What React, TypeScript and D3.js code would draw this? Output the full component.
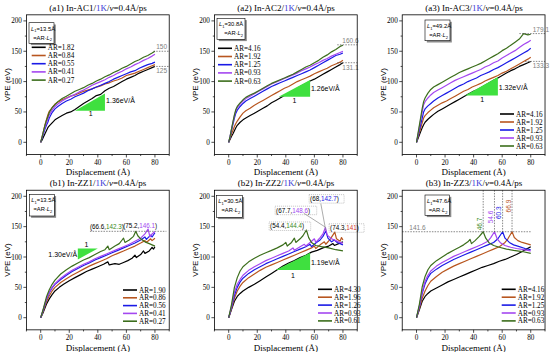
import React from 'react';
import * as d3 from 'd3';

// ---- data ----
const seriesColors = ['#000000', '#b8561f', '#1a1ae6', '#a447f0', '#3c6e1c'];

const gridA = [0, 1, 2, 3, 4, 5, 6, 8, 10, 12, 15, 18, 21, 24, 27, 30, 33, 36, 39, 42, 45, 48, 51, 54, 57, 60, 63, 66, 69, 72, 75, 78, 80];

const a1Labels = ['AR=1.82', 'AR=0.84', 'AR=0.55', 'AR=0.41', 'AR=0.27'];
const a1Values = [
  [0, 4, 9, 14, 19, 24, 27, 32, 37, 40, 44, 48, 50, 54, 59, 64, 68, 72, 77, 79, 85, 89, 92, 96, 100, 104, 107, 110, 114, 117, 120, 123, 125],
  [0, 9, 19, 29, 37, 45, 51, 57, 63, 66, 70, 73, 76, 78, 81, 84, 86, 88, 91, 93, 96, 98, 101, 103, 106, 110, 112, 114, 117, 120, 123, 126, 128],
  [0, 7, 15, 22, 28, 33, 40, 49, 55, 59, 64, 68, 71, 75, 78, 81, 85, 88, 91, 94, 97, 100, 104, 107, 110, 113, 116, 118, 122, 125, 128, 130, 132],
  [0, 8, 17, 25, 32, 38, 45, 53, 59, 63, 68, 72, 76, 79, 83, 86, 90, 94, 97, 100, 103, 107, 110, 114, 117, 121, 124, 128, 131, 135, 138, 142, 145],
  [0, 9, 19, 28, 36, 42, 49, 57, 62, 67, 72, 76, 80, 84, 87, 90, 94, 97, 101, 104, 108, 111, 115, 118, 122, 125, 129, 133, 136, 140, 143, 147, 150],
];

const a2Labels = ['AR=4.16', 'AR=1.92', 'AR=1.25', 'AR=0.93', 'AR=0.63'];
const a2Values = [
  [0, 5, 10, 14, 19, 24, 28, 33, 37, 40, 44, 48, 52, 56, 60, 65, 69, 73, 77, 81, 85, 89, 93, 97, 101, 104, 108, 112, 116, 120, 124, 128, 131],
  [0, 7, 14, 20, 26, 31, 35, 42, 48, 52, 56, 61, 65, 69, 73, 77, 81, 85, 89, 92, 96, 100, 103, 106, 109, 113, 116, 119, 122, 126, 129, 132, 135],
  [0, 9, 20, 30, 40, 48, 53, 59, 64, 68, 72, 76, 80, 84, 88, 92, 95, 98, 101, 104, 107, 110, 113, 116, 119, 123, 127, 131, 135, 139, 143, 145, 147],
  [0, 10, 22, 33, 44, 52, 57, 63, 68, 72, 76, 80, 84, 88, 92, 96, 99, 102, 105, 108, 111, 114, 118, 121, 124, 128, 131, 135, 138, 142, 145, 148, 150],
  [0, 10, 22, 34, 45, 54, 59, 65, 70, 74, 78, 81, 85, 89, 93, 97, 100, 103, 106, 109, 112, 116, 120, 124, 127, 131, 135, 140, 144, 149, 153, 158, 160],
];

const a3Labels = ['AR=4.16', 'AR=1.92', 'AR=1.25', 'AR=0.93', 'AR=0.63'];
const a3Values = [
  [0, 6, 12, 18, 24, 29, 33, 38, 42, 46, 51, 55, 59, 63, 67, 71, 75, 79, 83, 86, 90, 94, 98, 102, 106, 110, 114, 118, 121, 125, 128, 131, 133],
  [0, 8, 16, 24, 32, 40, 44, 49, 53, 57, 61, 65, 68, 72, 76, 80, 84, 87, 91, 94, 97, 101, 104, 107, 110, 114, 117, 121, 125, 129, 133, 137, 140],
  [0, 10, 20, 30, 40, 50, 55, 60, 64, 68, 73, 77, 81, 85, 89, 93, 96, 100, 103, 106, 110, 113, 116, 120, 123, 127, 131, 135, 139, 143, 147, 151, 155],
  [0, 12, 25, 38, 50, 62, 67, 73, 78, 82, 86, 90, 94, 98, 102, 105, 108, 111, 114, 117, 120, 124, 127, 131, 134, 139, 143, 147, 151, 156, 161, 165, 168],
  [0, 14, 28, 42, 56, 67, 73, 81, 87, 91, 95, 99, 103, 107, 111, 115, 118, 121, 124, 127, 130, 134, 138, 142, 146, 151, 155, 160, 165, 170, 179, 177, 178],
];

const b1Labels = ['AR=1.90', 'AR=0.86', 'AR=0.56', 'AR=0.41', 'AR=0.27'];
const b1Black = [[0, 0], [2, 10], [4, 22], [6, 31], [8, 38], [10, 44], [13, 50], [16, 55], [20, 61], [24, 66], [28, 71], [32, 76], [36, 80], [40, 84], [44, 88], [47, 92], [48, 87], [52, 89], [55, 88], [58, 91], [61, 94], [64, 98], [66, 103], [67, 99], [70, 104], [72, 110], [73, 106], [76, 110], [78, 116], [79, 113], [80, 117]];
const b1Brown = [[0, 0], [2, 12], [4, 26], [6, 36], [8, 44], [10, 50], [14, 58], [18, 64], [22, 70], [26, 75], [30, 80], [34, 85], [38, 89], [42, 93], [46, 97], [50, 102], [54, 106], [58, 110], [62, 114], [66, 118], [70, 123], [73, 127], [74, 124], [77, 130], [78, 127], [80, 131]];
const b1Blue = [[0, 0], [2, 14], [4, 30], [6, 41], [8, 49], [10, 55], [14, 63], [18, 70], [22, 76], [26, 81], [30, 86], [34, 90], [38, 95], [42, 99], [46, 103], [50, 107], [54, 111], [58, 115], [62, 119], [66, 123], [70, 128], [73, 133], [74, 129], [77, 136], [78, 133], [80, 140]];
const b1Purple = [[0, 0], [2, 15], [4, 31], [6, 42], [8, 50], [10, 56], [14, 65], [18, 72], [22, 78], [26, 83], [30, 88], [34, 92], [38, 97], [42, 101], [46, 105], [50, 109], [54, 113], [58, 117], [62, 121], [66, 126], [70, 131], [73, 138], [75.2, 146.1], [76.5, 133], [78, 138], [80, 142]];
const b1Green = [[0, 0], [2, 16], [4, 34], [6, 46], [8, 55], [10, 62], [14, 72], [18, 79], [22, 85], [26, 90], [30, 95], [34, 99], [38, 104], [42, 109], [45, 112], [47, 118], [48, 112], [52, 118], [55, 122], [57, 128], [58, 131], [59, 124], [62, 128], [65, 134], [66.6, 142.3], [68, 135], [70, 130], [73, 125], [76, 122], [80, 118]];

const b2Labels = ['AR=4.30', 'AR=1.96', 'AR=1.26', 'AR=0.93', 'AR=0.61'];
const b2Black = [[0, 0], [2, 14], [4, 27], [6, 35], [8, 40], [10, 44], [14, 50], [18, 55], [22, 61], [26, 67], [30, 73], [34, 79], [38, 85], [42, 90], [46, 94], [50, 99], [54, 103], [58, 108], [62, 111], [66, 115], [70, 118], [73, 122], [74, 119], [77, 122], [80, 125]];
const b2Brown = [[0, 0], [2, 15], [4, 32], [6, 44], [8, 52], [10, 58], [14, 66], [18, 72], [22, 78], [26, 83], [30, 87], [34, 91], [38, 95], [42, 99], [46, 103], [50, 107], [54, 111], [58, 115], [60, 118], [61, 114], [64, 120], [67, 125], [68, 121], [71, 129], [74.3, 141], [75.5, 130], [78, 126], [79, 132], [80, 128]];
const b2Blue = [[0, 0], [2, 17], [4, 37], [6, 50], [8, 59], [10, 65], [14, 73], [18, 79], [22, 84], [26, 89], [30, 93], [34, 97], [38, 101], [42, 105], [46, 109], [50, 113], [54, 117], [57, 121], [58, 117], [61, 123], [64, 128], [66, 134], [68, 142.7], [69.5, 131], [72, 125], [74, 128], [76, 124], [78, 122], [80, 120]];
const b2Purple = [[0, 0], [2, 19], [4, 42], [6, 55], [8, 63], [10, 70], [14, 78], [18, 84], [22, 89], [26, 94], [30, 98], [34, 102], [38, 106], [42, 110], [45, 115], [46, 111], [50, 117], [53, 121], [54, 118], [57, 124], [60, 130], [61, 124], [64, 132], [66, 138], [67.7, 148.6], [69, 136], [72, 130], [75, 127], [78, 124], [80, 123]];
const b2Green = [[0, 0], [2, 22], [4, 50], [6, 66], [8, 77], [10, 84], [14, 92], [18, 98], [22, 103], [26, 107], [30, 111], [34, 115], [38, 120], [40, 124], [41, 118], [44, 124], [46, 131], [47, 124], [50, 130], [52, 135], [54.4, 144.4], [56, 132], [58, 124], [61, 119], [65, 117], [70, 115], [75, 112], [80, 110]];

const b3Labels = ['AR=4.16', 'AR=1.92', 'AR=1.25', 'AR=0.93', 'AR=0.63'];
const b3Black = [[0, 0], [2, 13], [4, 27], [6, 35], [8, 40], [10, 44], [14, 49], [18, 54], [22, 59], [26, 63], [30, 67], [34, 71], [38, 75], [42, 79], [46, 83], [50, 86], [54, 89], [58, 93], [62, 96], [66, 100], [70, 104], [74, 109], [77, 113], [80, 117]];
const b3Brown = [[0, 0], [2, 15], [4, 32], [6, 44], [8, 53], [10, 60], [14, 68], [18, 75], [22, 80], [26, 85], [30, 89], [34, 93], [38, 97], [42, 101], [46, 105], [50, 109], [54, 113], [58, 117], [62, 124], [64, 130], [66.9, 141.6], [68.5, 132], [71, 127], [74, 124], [77, 122], [80, 120]];
const b3Blue = [[0, 0], [2, 18], [4, 40], [6, 56], [8, 66], [10, 73], [14, 80], [18, 86], [22, 91], [26, 96], [30, 100], [34, 104], [38, 108], [42, 112], [46, 116], [50, 120], [54, 124], [57, 130], [60.3, 141.6], [62, 131], [65, 124], [68, 120], [72, 117], [76, 114], [80, 112]];
const b3Purple = [[0, 0], [2, 19], [4, 43], [6, 60], [8, 70], [10, 77], [14, 85], [18, 91], [22, 96], [26, 101], [30, 105], [34, 109], [38, 113], [42, 117], [46, 121], [50, 126], [52, 132], [54.6, 141.6], [56.5, 130], [59, 123], [62, 119], [66, 116], [70, 114], [75, 112], [80, 110]];
const b3Green = [[0, 0], [2, 22], [4, 51], [6, 68], [8, 79], [10, 86], [14, 94], [18, 100], [22, 106], [26, 111], [30, 116], [33, 120], [36, 125], [37.5, 129], [38.5, 122], [41, 127], [44, 134], [46.7, 141.6], [48.5, 131], [51, 123], [54, 119], [58, 116], [63, 113], [68, 111], [74, 109], [80, 106]];

const xTicks = [0, 20, 40, 60, 80];
const yTicks = [0, 50, 100, 150, 200];

// ---- layout ----
const SERIF = "'Liberation Serif', 'Times New Roman', serif";
const SANS = "'Liberation Sans', Arial, sans-serif";
const colX0 = [40.7, 228.7, 416.5];
const rowY0 = [142.3, 317.7];
const PXX = 1.428;
const PXY = 0.607;
const TRI = '#3fe03f';

const toPairs = (vals: number[]) => vals.map((v, i) => [gridA[i], v]);

type Pt = number[];

function makeScales(col: number, row: number) {
  const x = d3.scaleLinear().domain([-10, 90]).range([colX0[col] - 10 * PXX, colX0[col] + 90 * PXX]);
  const y = d3.scaleLinear().domain([-20, 210]).range([rowY0[row] + 20 * PXY, rowY0[row] - 210 * PXY]);
  return {x, y};
}

function Title({x, y, tag, name}: any) {
  return (
    <text x={x} y={y} textAnchor="middle" fontFamily={SERIF} fontSize={9}>
      {`(${tag}) In-${name}/`}
      <tspan fill="#3b3bd6">1K</tspan>
      {'/'}
      <tspan fontStyle="italic">v</tspan>
      {'=0.4Å/ps'}
    </text>
  );
}

function LBox({x, y, w, h, val}: any) {
  return (
    <g fontFamily={SANS} fontSize={5.8}>
      <rect x={x + 1.8} y={y + 1.8} width={w} height={h} fill="#8a8a8a" />
      <rect x={x} y={y} width={w} height={h} fill="#fff" stroke="#000" strokeWidth={0.6} />
      <text x={x + 2} y={y + 8}>
        <tspan fontStyle="italic">L</tspan>
        <tspan fontSize={4} dy={1.5}>1</tspan>
        <tspan dy={-1.5}>{`=${val}Å`}</tspan>
      </text>
      <text x={x + w - 2} y={y + 17} textAnchor="end">
        {'=AR·'}
        <tspan fontStyle="italic">L</tspan>
        <tspan fontSize={4} dy={1.5}>2</tspan>
      </text>
    </g>
  );
}

function Legend({x, y, labels, gap}: any) {
  return (
    <g fontFamily={SERIF} fontSize={7.2}>
      {labels.map((l: string, i: number) => (
        <g key={l + i}>
          <line x1={x} x2={x + 14} y1={y + i * gap} y2={y + i * gap} stroke={seriesColors[i]} strokeWidth={1.6} />
          <text x={x + 16} y={y + i * gap + 2.5}>{l}</text>
        </g>
      ))}
    </g>
  );
}

function Panel({col, row, series, children}: any) {
  const {x, y} = makeScales(col, row);
  const [x0, x1] = x.range();
  const [yb, yt] = y.range();
  const line = d3.line<Pt>().x(d => x(d[0])).y(d => y(d[1]));
  const minorX = d3.range(-10, 91, 10).filter(v => !xTicks.includes(v));
  const minorY = d3.range(25, 210, 50);
  return (
    <g>
      <g fill="none" strokeLinejoin="round">
        {series.map((s: Pt[], i: number) => (
          <path key={i} d={line(s) || ''} stroke={seriesColors[i]} strokeWidth={1.2} />
        ))}
      </g>
      {children(x, y)}
      <rect x={x0} y={yt} width={x1 - x0} height={yb - yt} fill="none" stroke="#000" strokeWidth={0.8} />
      <g stroke="#000" strokeWidth={0.7}>
        {xTicks.map(t => <line key={'x' + t} x1={x(t)} x2={x(t)} y1={yb} y2={yb + 3} />)}
        {minorX.map(t => <line key={'mx' + t} x1={x(t)} x2={x(t)} y1={yb} y2={yb + 1.6} />)}
        {yTicks.map(t => <line key={'y' + t} x1={x0} x2={x0 - 3} y1={y(t)} y2={y(t)} />)}
        {minorY.map(t => <line key={'my' + t} x1={x0} x2={x0 - 1.6} y1={y(t)} y2={y(t)} />)}
      </g>
      <g fontFamily={SERIF} fontSize={7.2}>
        {xTicks.map(t => <text key={'xl' + t} x={x(t)} y={yb + 10.5} textAnchor="middle">{t}</text>)}
        {yTicks.map(t => <text key={'yl' + t} x={x0 - 4.5} y={y(t) + 2.5} textAnchor="end">{t}</text>)}
      </g>
      <text x={(x0 + x1) / 2} y={yb + 21} textAnchor="middle" fontFamily={SERIF} fontSize={9}>Displacement (Å)</text>
      <text transform={`translate(${x0 - 16},${(yt + yb) / 2}) rotate(-90)`} textAnchor="middle" fontFamily={SANS} fontSize={8}>VPE (eV)</text>
    </g>
  );
}

function Slope({x, y, pts, label, lx, ly, one, anchor}: any) {
  return (
    <g fontFamily={SANS} fontSize={7}>
      <polygon points={pts.map((p: Pt) => `${x(p[0])},${y(p[1])}`).join(' ')} fill={TRI} />
      <text x={x(lx)} y={y(ly)} textAnchor={anchor || 'start'}>{label}</text>
      <text x={x(one[0])} y={y(one[1])} textAnchor="middle">1</text>
    </g>
  );
}

function HMark({x, y, v, from, to, lx, below}: any) {
  return (
    <g>
      <line x1={x(from)} x2={x(to)} y1={y(v)} y2={y(v)} stroke="#555" strokeWidth={0.7} strokeDasharray="1.5,1.2" />
      <text x={x(lx)} y={below ? y(v) + 7 : y(v) - 2} textAnchor="end" fontFamily={SANS} fontSize={6.5} fill="#808080">{v.toFixed(v % 1 ? 1 : 0)}</text>
    </g>
  );
}

function Coord({x, y, at, a, b, color, box}: any) {
  const w = (a.length + b.length + 3) * 3.3;
  return (
    <g fontFamily={SANS} fontSize={6.3}>
      {box && <rect x={x(at[0]) - 1} y={y(at[1]) - 6.5} width={w + 2} height={8.5} fill="none" stroke="#888" strokeWidth={0.5} strokeDasharray="1,1" />}
      <text x={x(at[0])} y={y(at[1])}>
        {`(${a},`}
        <tspan fill={color}>{b}</tspan>
        {')'}
      </text>
    </g>
  );
}

export default function App() {
  const a1 = a1Values.map(toPairs);
  const a2 = a2Values.map(toPairs);
  const a3 = a3Values.map(toPairs);
  const b1 = [b1Black, b1Brown, b1Blue, b1Purple, b1Green];
  const b2 = [b2Black, b2Brown, b2Blue, b2Purple, b2Green];
  const b3 = [b3Black, b3Brown, b3Blue, b3Purple, b3Green];
  return (
    <svg width={550} height={352} style={{position: 'absolute', left: 0, top: 0, background: '#fff'}}>
      <Title x={98} y={10.5} tag="a1" name="AC1" />
      <Title x={286} y={10.5} tag="a2" name="AC2" />
      <Title x={474} y={10.5} tag="a3" name="AC3" />
      <Title x={98} y={186} tag="b1" name="ZZ1" />
      <Title x={286} y={186} tag="b2" name="ZZ2" />
      <Title x={474} y={186} tag="b3" name="ZZ3" />

      <Panel col={0} row={0} series={a1}>
        {(x: any, y: any) => (
          <g>
            <Slope x={x} y={y} pts={[[24, 52], [45, 52], [45, 80.6]]} label="1.36eV/Å" lx={45.8} ly={64} one={[35, 44]} />
            <HMark x={x} y={y} v={150} from={79} to={90} lx={88.5} />
            <HMark x={x} y={y} v={125} from={79} to={90} lx={88.5} below />
          </g>
        )}
      </Panel>
      <Panel col={1} row={0} series={a2}>
        {(x: any, y: any) => (
          <g>
            <Slope x={x} y={y} pts={[[35, 75], [57, 75], [57, 102.7]]} label="1.26eV/Å" lx={57.6} ly={85} one={[46, 65]} />
            <HMark x={x} y={y} v={160.6} from={76} to={90} lx={91} />
            <HMark x={x} y={y} v={131.1} from={76} to={90} lx={91} below />
          </g>
        )}
      </Panel>
      <Panel col={2} row={0} series={a3}>
        {(x: any, y: any) => (
          <g>
            <Slope x={x} y={y} pts={[[34, 77], [57, 77], [57, 107.4]]} label="1.32eV/Å" lx={57.6} ly={86} one={[46, 66]} />
            <HMark x={x} y={y} v={179.1} from={72} to={90} lx={92.8} />
            <HMark x={x} y={y} v={133.3} from={76} to={90} lx={92.8} below />
          </g>
        )}
      </Panel>
      <Panel col={0} row={1} series={b1}>
        {(x: any, y: any) => (
          <g>
            <Slope x={x} y={y} pts={[[26, 114], [40, 114], [26, 96]]} label="1.30eV/Å" lx={25.5} ly={100} one={[32, 117]} anchor="end" />
            <line x1={x(34.5)} x2={x(88)} y1={y(142.3)} y2={y(142.3)} stroke="#555" strokeWidth={0.7} strokeDasharray="1.5,1.2" />
            <Coord x={x} y={y} at={[34.5, 145.5]} a="66.6" b="142.3" color="#3c8a1c" />
            <Coord x={x} y={y} at={[57.8, 148.5]} a="75.2" b="146.1" color="#a447f0" />
          </g>
        )}
      </Panel>
      <Panel col={1} row={1} series={b2}>
        {(x: any, y: any) => (
          <g>
            <Slope x={x} y={y} pts={[[33, 78.6], [57, 78.6], [57, 107]]} label="1.19eV/Å" lx={57.6} ly={86} one={[45, 66]} />
            <line x1={x(64.5)} x2={x(68)} y1={y(188)} y2={y(143.5)} stroke="#888" strokeWidth={0.7} />
            <line x1={x(52.6)} x2={x(67.5)} y1={y(172)} y2={y(149.5)} stroke="#888" strokeWidth={0.7} />
            <Coord x={x} y={y} at={[57, 192]} a="68" b="142.7" color="#1a1ae6" box />
            <Coord x={x} y={y} at={[33.2, 173]} a="67.7" b="148.6" color="#a447f0" box />
            <Coord x={x} y={y} at={[29, 147]} a="54.4" b="144.4" color="#3c8a1c" box />
            <Coord x={x} y={y} at={[71, 144]} a="74.3" b="141" color="#d2382a" box />
          </g>
        )}
      </Panel>
      <Panel col={2} row={1} series={b3}>
        {(x: any, y: any) => (
          <g>
            <line x1={x(-10)} x2={x(80)} y1={y(141.6)} y2={y(141.6)} stroke="#555" strokeWidth={0.7} strokeDasharray="1.5,1.2" />
            <text x={x(-5)} y={y(141.6) - 2} fontFamily={SANS} fontSize={6.5} fill="#808080">141.6</text>
            {[[46.7, '#3c8a1c', 141.6], [54.6, '#a447f0', 153], [60.3, '#1a1ae6', 160], [66.9, '#b8561f', 171]].map(([v, c, s]: any) => (
              <g key={v}>
                <line x1={x(v)} x2={x(v)} y1={y(210)} y2={y(141.6)} stroke="#555" strokeWidth={0.7} strokeDasharray="1.5,1.2" />
                <text transform={`translate(${x(v) - 1.5},${y(s) - 1.5}) rotate(-90)`} fontFamily={SANS} fontSize={6.5} fill={c}>{v.toFixed(1)}</text>
              </g>
            ))}
          </g>
        )}
      </Panel>

      <LBox x={29} y={22.7} w={25} h={20.6} val="13.5" />
      <LBox x={217} y={18.3} w={28} h={21} val="30.8" />
      <LBox x={425} y={20} w={25} h={20.7} val="49.2" />
      <LBox x={29.3} y={194.3} w={25} h={21.7} val="13.5" />
      <LBox x={216.3} y={195.3} w={26} h={22} val="30.5" />
      <LBox x={425} y={195} w={24.5} h={20.3} val="47.6" />

      <Legend x={31.7} y={47.3} gap={8.2} labels={a1Labels} />
      <Legend x={218} y={48.3} gap={8.2} labels={a2Labels} />
      <Legend x={500} y={114} gap={8} labels={a3Labels} />
      <Legend x={123} y={290} gap={7.8} labels={b1Labels} />
      <Legend x={318} y={289.3} gap={7.9} labels={b2Labels} />
      <Legend x={501.7} y={289.3} gap={7.9} labels={b3Labels} />
    </svg>
  );
}
